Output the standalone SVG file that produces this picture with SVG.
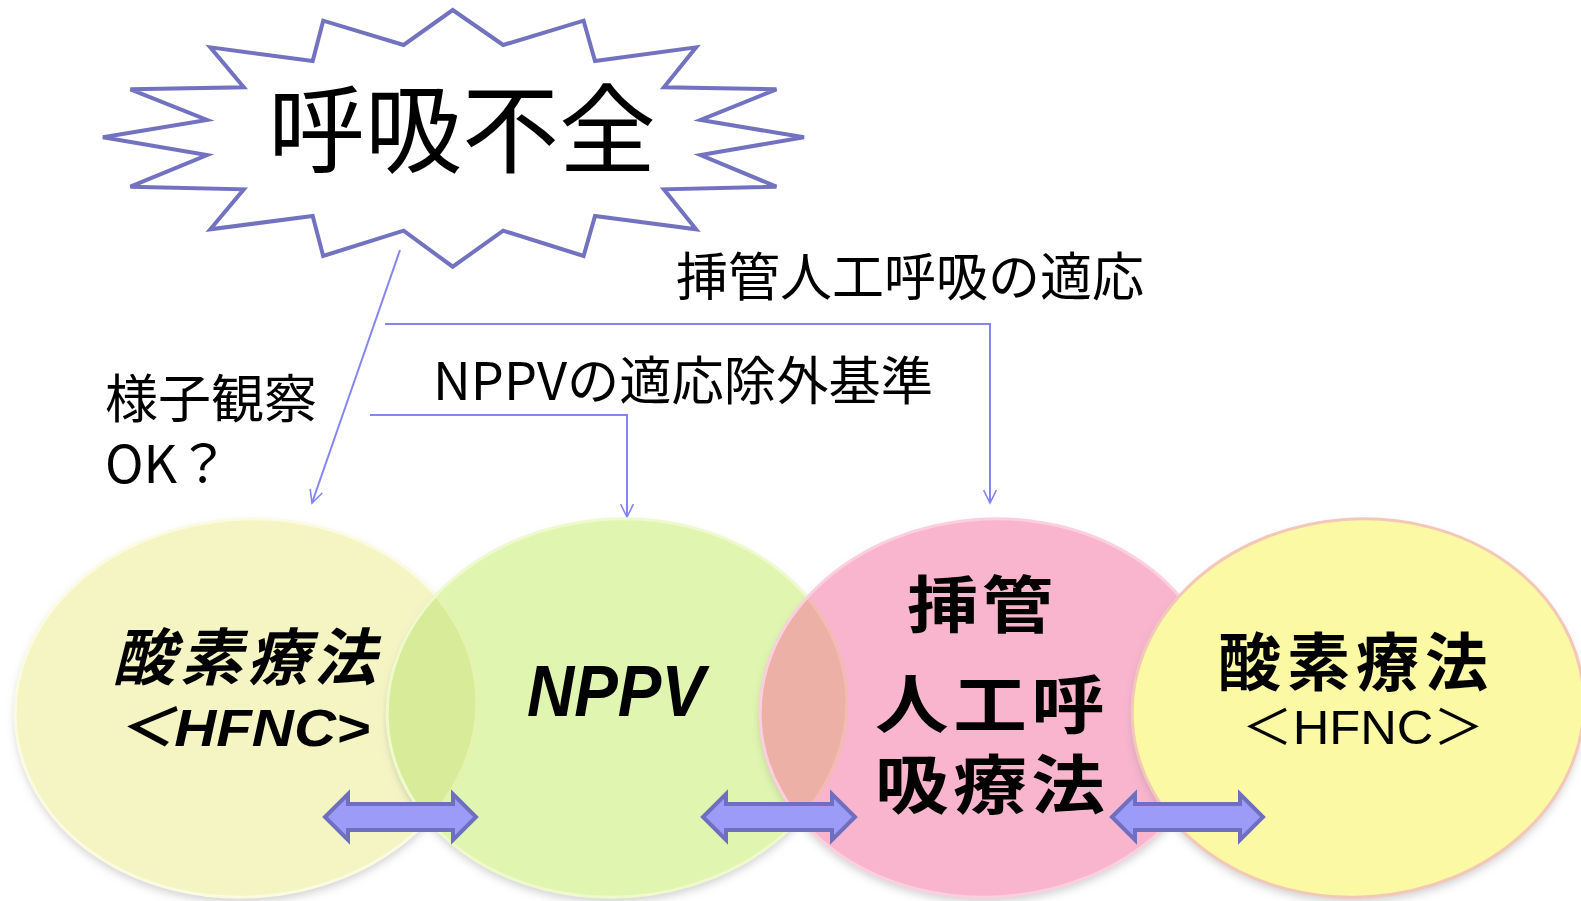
<svg xmlns="http://www.w3.org/2000/svg" xmlns:xlink="http://www.w3.org/1999/xlink" width="1581" height="901" viewBox="0 0 1581 901">
<style>
.lbl{font-family:"Noto Sans CJK JP","Noto Sans",sans-serif;font-size:52px;fill:#000}
.big{font-family:"Noto Sans CJK JP",sans-serif;font-weight:700;fill:#000}
.conn{fill:none;stroke:#8585F0;stroke-width:2}
.dbl{fill:#9C9CF8;stroke:#6F6FC0;stroke-width:4;stroke-linejoin:miter}
.rim{fill:none;stroke-width:3}
</style>
<defs>
<marker id="open" viewBox="0 0 20 20" refX="18" refY="10" markerWidth="16" markerHeight="16" markerUnits="userSpaceOnUse" orient="auto">
<path d="M2,2 L18,10 L2,18" fill="none" stroke="#8585F0" stroke-width="2"/>
</marker>
<filter id="sh" x="-10%" y="-10%" width="120%" height="125%">
<feDropShadow dx="0" dy="5" stdDeviation="4" flood-color="#808080" flood-opacity="0.35"/>
</filter>
<ellipse id="e1" cx="246" cy="708" rx="231" ry="189" transform="rotate(-4 246 708)"/>
<ellipse id="e2" cx="617" cy="708" rx="230" ry="189" transform="rotate(-4 617 708)"/>
<ellipse id="e3" cx="990" cy="708" rx="230" ry="189" transform="rotate(-4 990 708)"/>
<ellipse id="e4" cx="1358" cy="708" rx="226" ry="189" transform="rotate(-4 1358 708)"/>
<clipPath id="c1"><use xlink:href="#e1"/></clipPath>
<clipPath id="c2"><use xlink:href="#e2"/></clipPath>
<clipPath id="c3"><use xlink:href="#e3"/></clipPath>
</defs>
<rect width="1581" height="901" fill="#fff"/>

<g id="burst">
<polygon points="452.7,10 503.2,45 583.6,20.7 595,61 696.1,47.3 663.9,87.3 776.4,89.3 700.6,120 804,137.3 700.6,155 776.4,186.7 663.9,189.3 696.1,229.3 595,216 583.6,256 503.2,230.7 452.7,266.7 403.6,230.7 323.2,256 312.7,216 210.3,229.3 243.8,189.3 130.4,186.7 207.1,155 102.9,137.3 207.1,120 130.4,89.3 243.8,87.3 210.3,47.3 312.7,61 323.2,20.7 403.6,45" fill="#fff" stroke="#7272C0" stroke-width="4"/>
<text x="462" y="165" text-anchor="middle" style="font-family:'Noto Sans CJK JP',sans-serif;font-size:97px;fill:#000">呼吸不全</text>
</g>

<g id="labels">
<text class="lbl" x="676" y="296">挿管人工呼吸の適応</text>
<text class="lbl" x="433" y="400" textLength="500" lengthAdjust="spacingAndGlyphs">NPPVの適応除外基準</text>
<text class="lbl" x="105" y="418" textLength="212" lengthAdjust="spacingAndGlyphs">様子観察</text>
<text class="lbl" x="105" y="483">OK？</text>
</g>

<g id="connectors">
<line class="conn" x1="400" y1="250" x2="312" y2="503" marker-end="url(#open)"/>
<polyline class="conn" points="385,324 990,324 990,503" marker-end="url(#open)"/>
<polyline class="conn" points="370,415 627,415 627,517" marker-end="url(#open)"/>
</g>

<g id="node-hfnc1">
<use xlink:href="#e1" fill="#F5F5C4" filter="url(#sh)"/>
<use xlink:href="#e1" class="rim" stroke="#FBFBE2"/>
</g>
<g id="node-nppv">
<use xlink:href="#e2" fill="#E0F5B0" filter="url(#sh)"/>
<use xlink:href="#e2" fill="#D7EB98" clip-path="url(#c1)"/>
<use xlink:href="#e1" class="rim" stroke="#E6F2B0" clip-path="url(#c2)"/>
<use xlink:href="#e2" class="rim" stroke="#EEF9CC"/>
</g>
<g id="node-intubation">
<use xlink:href="#e3" fill="#F8B5CD" filter="url(#sh)"/>
<use xlink:href="#e3" fill="#EDB0A6" clip-path="url(#c2)"/>
<use xlink:href="#e2" class="rim" stroke="#F2BCB0" clip-path="url(#c3)"/>
<use xlink:href="#e3" class="rim" stroke="#FBCFDD"/>
</g>
<g id="node-hfnc2">
<use xlink:href="#e4" fill="#FCF9A4" filter="url(#sh)"/>
<use xlink:href="#e4" class="rim" stroke="#F3C8B8"/>
</g>

<g id="node-texts">
<text class="big" x="113" y="680" style="font-size:62px;font-style:italic;letter-spacing:5px">酸素療法</text>
<text x="116" y="746" textLength="254" lengthAdjust="spacingAndGlyphs" style="font-family:'Liberation Sans','Noto Sans CJK JP',sans-serif;font-size:52px;font-weight:700;font-style:italic;fill:#000">＜HFNC&gt;</text>
<text x="527" y="716" textLength="178" lengthAdjust="spacingAndGlyphs" style="font-family:'Liberation Sans',sans-serif;font-size:72px;font-weight:700;font-style:italic;fill:#000">NPPV</text>
<text class="big" transform="translate(907,628) scale(1.15,1)" style="font-size:62px;letter-spacing:3px">挿管</text>
<text class="big" transform="translate(875,728) scale(1.15,1)" style="font-size:64px;letter-spacing:4px">人工呼</text>
<text class="big" transform="translate(875,808) scale(1.15,1)" style="font-size:64px;letter-spacing:4px">吸療法</text>
<text class="big" x="1218" y="685" style="font-size:63px;letter-spacing:6px">酸素療法</text>
<text x="1242" y="744" textLength="242" lengthAdjust="spacingAndGlyphs" style="font-family:'Liberation Sans','Noto Sans CJK JP',sans-serif;font-size:48px;font-weight:400;fill:#000">＜HFNC＞</text>
</g>

<g id="double-arrows">
<polygon class="dbl" points="325,817 348,794 348,804 453,804 453,794 476,817 453,840 453,830 348,830 348,840"/>
<polygon class="dbl" points="703,817 726,794 726,804 832,804 832,794 855,817 832,840 832,830 726,830 726,840"/>
<polygon class="dbl" points="1112,817 1135,794 1135,804 1240,804 1240,794 1263,817 1240,840 1240,830 1135,830 1135,840"/>
</g>
</svg>
